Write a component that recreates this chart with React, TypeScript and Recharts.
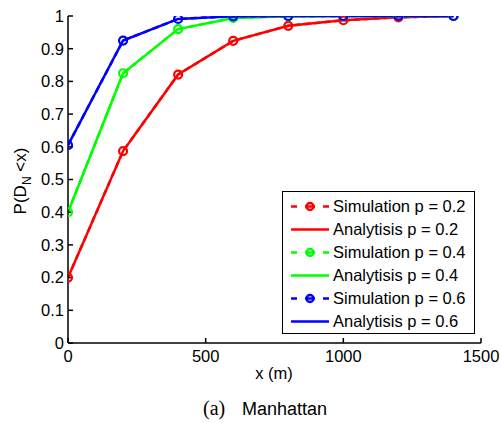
import React from 'react'
import { LineChart, Line, XAxis, YAxis, Legend } from 'recharts'

const xValues = [0, 200, 400, 600, 800, 1000, 1200, 1400]

const simP02 = [0.2, 0.587, 0.821, 0.924, 0.97, 0.987, 0.996, 1.0]
const anaP02 = [0.2, 0.587, 0.821, 0.924, 0.97, 0.987, 0.996, 1.0]
const simP04 = [0.4, 0.825, 0.96, 0.994, 0.999, 1.0, 1.0, 1.0]
const anaP04 = [0.4, 0.825, 0.96, 0.994, 0.999, 1.0, 1.0, 1.0]
const simP06 = [0.605, 0.925, 0.991, 0.999, 1.0, 1.0, 1.0, 1.0]
const anaP06 = [0.605, 0.925, 0.991, 0.999, 1.0, 1.0, 1.0, 1.0]

const xTicks = [0, 500, 1000, 1500]
const yTicks = [0, 0.1, 0.2, 0.3, 0.4, 0.5, 0.6, 0.7, 0.8, 0.9, 1]

const SERIES = [
  { key: 'sim02', name: 'Simulation p = 0.2', color: '#ff0000', dashed: true, values: simP02 },
  { key: 'ana02', name: 'Analytisis p = 0.2', color: '#ff0000', dashed: false, values: anaP02 },
  { key: 'sim04', name: 'Simulation p = 0.4', color: '#00ff00', dashed: true, values: simP04 },
  { key: 'ana04', name: 'Analytisis p = 0.4', color: '#00ff00', dashed: false, values: anaP04 },
  { key: 'sim06', name: 'Simulation p = 0.6', color: '#0000ff', dashed: true, values: simP06 },
  { key: 'ana06', name: 'Analytisis p = 0.6', color: '#0000ff', dashed: false, values: anaP06 },
]

const data = xValues.map((x, i) => {
  const row: Record<string, number> = { x }
  SERIES.forEach(s => { row[s.key] = s.values[i] })
  return row
})

const FONT = '"Liberation Sans", Arial, Helvetica, sans-serif'
const tickStyle = { fill: '#000', fontSize: 16.5, fontFamily: FONT }

const noTick = () => <g />

function LegendBox() {
  return (
    <div style={{ width: 191, height: 138, border: '1px solid #000', background: '#fff', fontFamily: FONT, fontSize: 16.5, color: '#000', paddingTop: 3, boxSizing: 'content-box' }}>
      {SERIES.map(s => (
        <div key={s.key} style={{ display: 'flex', alignItems: 'center', height: 23 }}>
          <svg width={50} height={23} style={{ flex: 'none' }}>
            {s.dashed ? (
              <g stroke={s.color} strokeWidth={2.5} fill="none">
                <line x1={8} y1={11.5} x2={14} y2={11.5} />
                <circle cx={27} cy={11.5} r={3.5} />
                <line x1={22} y1={11.5} x2={32} y2={11.5} />
                <line x1={40} y1={11.5} x2={46} y2={11.5} />
              </g>
            ) : (
              <line x1={8} y1={11.5} x2={46} y2={11.5} stroke={s.color} strokeWidth={2.5} />
            )}
          </svg>
          <span style={{ whiteSpace: 'nowrap' }}>{s.name}</span>
        </div>
      ))}
    </div>
  )
}

export default function App() {
  return (
    <div style={{ position: 'absolute', left: 0, top: 0, width: 501, height: 423, background: '#fff' }}>
      <LineChart width={501} height={423} data={data} margin={{ top: 16, right: 20, bottom: 50, left: 28 }}>
        <XAxis dataKey="x" type="number" domain={[0, 1500]} ticks={xTicks} allowDataOverflow
          height={30} stroke="#000" strokeWidth={1.5} tickSize={-5} tickMargin={12} tick={tickStyle} />
        <XAxis xAxisId="top" orientation="top" dataKey="x" type="number" domain={[0, 1500]} ticks={xTicks}
          allowDataOverflow height={0} stroke="#000" strokeWidth={1.5} tickSize={-5} tick={noTick} />
        <YAxis type="number" domain={[0, 1]} ticks={yTicks} allowDataOverflow width={40}
          stroke="#000" strokeWidth={1.5} tickSize={-5} tickMargin={9} tick={tickStyle}
          tickFormatter={(v: number) => String(v)} />
        <YAxis yAxisId="right" orientation="right" type="number" domain={[0, 1]} ticks={yTicks} allowDataOverflow
          width={0} stroke="#000" strokeWidth={1.5} tickSize={-5} tick={noTick} />
        {SERIES.map(s => (
          <Line key={s.key} type="linear" dataKey={s.key} name={s.name} stroke={s.color} strokeWidth={2.5}
            strokeDasharray={s.dashed ? '6 4' : undefined}
            dot={s.dashed ? { r: 4, strokeWidth: 2.2, fill: 'none', stroke: s.color, strokeDasharray: '' } : false}
            activeDot={false} isAnimationActive={false} />
        ))}
        <Legend layout="vertical" align="center" verticalAlign="middle" content={() => <LegendBox />}
          wrapperStyle={{ left: 282, top: 191, width: 193, height: 141 }} />
      </LineChart>
      <svg width={501} height={423} style={{ position: 'absolute', left: 0, top: 0, pointerEvents: 'none' }}>
        <text transform="translate(26,181) rotate(-90)" textAnchor="middle" fontFamily={FONT} fontSize={17} fill="#000">
          P(D<tspan dy={5} fontSize={12}>N</tspan><tspan dy={-5}> &lt;x)</tspan>
        </text>
        <text x={274} y={379} textAnchor="middle" fontFamily={FONT} fontSize={16.5} fill="#000">x (m)</text>
        <text x={203} y={415} fontFamily='"Liberation Serif", "Times New Roman", serif' fontSize={20} fill="#000">(a)</text>
        <text x={242} y={415} fontFamily={FONT} fontSize={18} fill="#000">Manhattan</text>
      </svg>
    </div>
  )
}
